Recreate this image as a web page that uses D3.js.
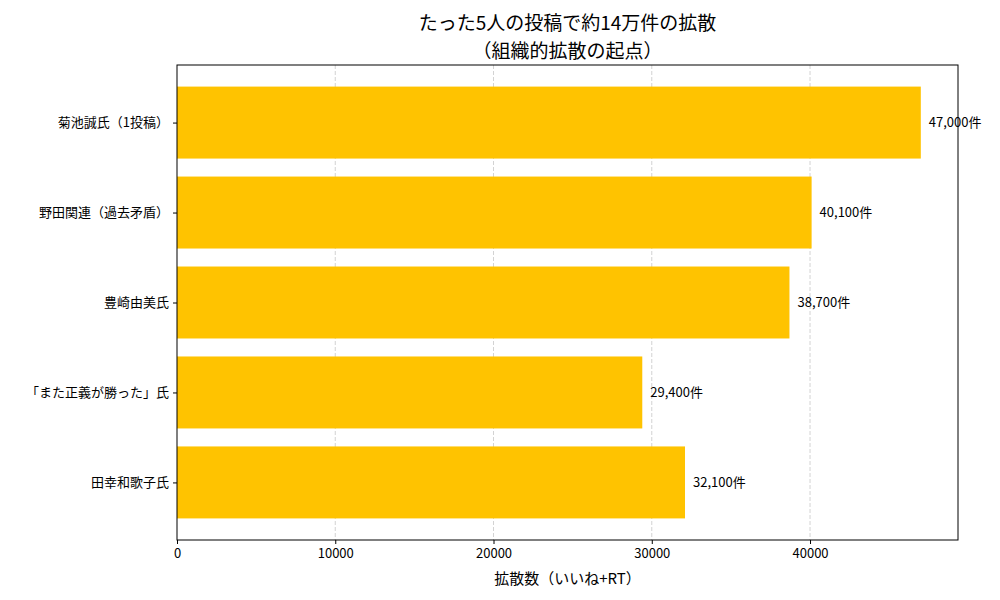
<!DOCTYPE html>
<html>
<head>
<meta charset="utf-8">
<script src="https://cdn.jsdelivr.net/npm/d3@7"></script>
<style>
  body { margin: 0; background: #fff; }
  text { font-family: "Noto Sans CJK JP", "DejaVu Sans", sans-serif; fill: #000; }
</style>
</head>
<body>
<svg id="chart"></svg>
<script>
// chart data
const names = ['菊池誠氏（1投稿）', '野田関連（過去矛盾）', '豊崎由美氏', '「また正義が勝った」氏', '田幸和歌子氏'];
const counts = [47000, 40100, 38700, 29400, 32100];
const valueLabels = ['47,000件', '40,100件', '38,700件', '29,400件', '32,100件'];
const xTicks = [0, 10000, 20000, 30000, 40000];
const titleLines = ['たった5人の投稿で約14万件の拡散', '（組織的拡散の起点）'];
const xLabel = '拡散数（いいね+RT）';

const W = 1000, H = 600;
const margin = {top: 65, right: 42, bottom: 60, left: 177};
const width = W - margin.left - margin.right;
const height = H - margin.top - margin.bottom;

const svg = d3.select('#chart').attr('width', W).attr('height', H);
const chart = svg.append('g').attr('transform', `translate(${margin.left},${margin.top})`);

// x: 0 .. max*1.05 like matplotlib's default margin
const xScale = d3.scaleLinear()
  .domain([0, d3.max(counts) * 1.05])
  .range([0, width]);

// y: categories at 0..4, bar height 0.8, 5% padding
const yScale = d3.scaleLinear()
  .domain([-0.64, 4.64])
  .range([0, height]);

// grid (behind the bars)
chart.append('g')
  .selectAll('line')
  .data(xTicks.slice(1))
  .join('line')
    .attr('x1', d => xScale(d)).attr('x2', d => xScale(d))
    .attr('y1', 0).attr('y2', height)
    .attr('stroke', '#c8c8c8')
    .attr('stroke-width', 0.8)
    .attr('stroke-dasharray', '4,2');

// bars
chart.append('g')
  .selectAll('rect')
  .data(counts)
  .join('rect')
    .attr('x', xScale(0))
    .attr('y', (d, i) => yScale(i - 0.4))
    .attr('width', d => xScale(d) - xScale(0))
    .attr('height', yScale(0.4) - yScale(-0.4))
    .attr('fill', '#ffc300');

// value labels
chart.append('g')
  .selectAll('text')
  .data(counts)
  .join('text')
    .attr('x', d => xScale(d) + 8)
    .attr('y', (d, i) => yScale(i))
    .attr('dy', '0.35em')
    .style('font-size', '13px')
    .text((d, i) => valueLabels[i]);

// frame
chart.append('rect')
  .attr('width', width).attr('height', height)
  .attr('fill', 'none').attr('stroke', '#000').attr('stroke-width', 1);

// x axis
const xAxis = d3.axisBottom(xScale).tickValues(xTicks).tickFormat(d3.format('d')).tickSize(4).tickPadding(5);
const xAxisG = chart.append('g')
  .attr('transform', `translate(0,${height})`)
  .call(xAxis);
xAxisG.select('.domain').remove();
xAxisG.selectAll('text').style('font-size', '13px').style('font-family', '"Noto Sans CJK JP", sans-serif');

// y axis
const yAxis = d3.axisLeft(yScale).tickValues(d3.range(names.length)).tickFormat(i => names[i]).tickSize(4).tickPadding(4);
const yAxisG = chart.append('g').call(yAxis);
yAxisG.select('.domain').remove();
yAxisG.selectAll('text').style('font-size', '13px').style('font-family', '"Noto Sans CJK JP", sans-serif');

// axis label
svg.append('text')
  .attr('x', margin.left + width / 2)
  .attr('y', 584)
  .attr('text-anchor', 'middle')
  .style('font-size', '15px')
  .text(xLabel);

// title, two lines
svg.append('g')
  .selectAll('text')
  .data(titleLines)
  .join('text')
    .attr('x', margin.left + width / 2)
    .attr('y', (d, i) => 30 + i * 28)
    .attr('text-anchor', 'middle')
    .style('font-size', '19px')
    .text(d => d);
</script>
</body>
</html>
